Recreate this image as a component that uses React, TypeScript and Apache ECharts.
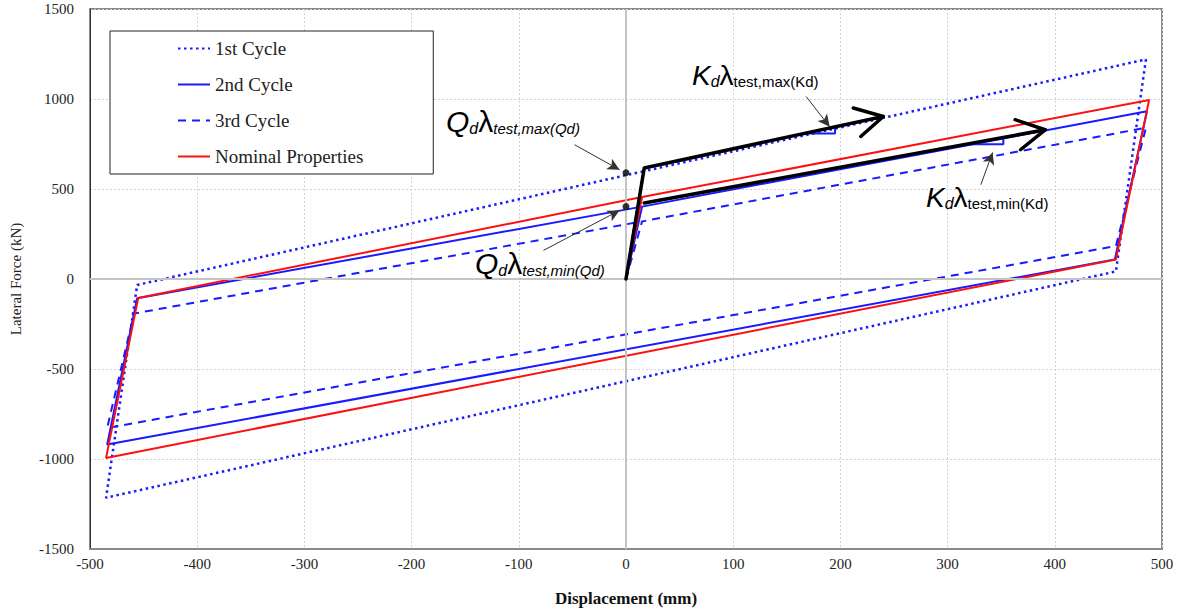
import React, { useEffect, useRef } from "react";
import * as echarts from "echarts";

// ---- Data ----
const cycle1: [number, number][] = [
  [0, 0], [16, 598], [485, 1220], [457, 42], [-485, -1215], [-456, -33], [16, 598],
];
const cycle2: [number, number][] = [
  [0, 0], [15, 402], [486, 932], [456, 108], [-484, -920], [-456, -107], [15, 402],
];
const cycle3: [number, number][] = [
  [0, 0], [15, 320], [485, 840], [457, 183], [-484, -828], [-459, -192], [15, 320],
];
const nominal: [number, number][] = [
  [0, 0], [15, 455], [488, 995], [457, 108], [-485, -994], [-455, -105], [15, 455],
];
// thick black stiffness lines
const kdMaxLine: [number, number][] = [[0, 0], [17, 617], [240, 903]];
const kdMinLine: [number, number][] = [[17, 422], [391, 829]];
const kdMaxHead: [number, number][] = [[212, 950], [240, 903], [219, 792]];
const kdMinHead: [number, number][] = [[363, 885], [391, 829], [368, 718]];
// slope triangles
const triMax: [number, number][] = [[166, 808], [195, 808], [195, 845]];
const triMin: [number, number][] = [[318, 749], [352, 749], [352, 786]];
// Qd points
const qdPoints: [number, number][] = [[0, 590], [0, 402]];
// annotation arrows [from, to]
const arrows: [[number, number], [number, number]][] = [
  [[-48, 746], [-6, 607]],
  [[-77, 159], [-6, 381]],
  [[168, 1014], [190, 846]],
  [[331, 524], [342, 703]],
];
const legendNames = ["1st Cycle", "2nd Cycle", "3rd Cycle", "Nominal Properties"];
const xTickInterval = 100;
const yTickInterval = 500;

const SANS = "Liberation Sans, Arial, sans-serif";
const SERIF = "Liberation Serif, Times New Roman, serif";
const BLUE = "#1a1aff";
const RED = "#ff1010";

function richLabel(
  left: number,
  top: number,
  main: string,
  sub: string,
  italicSub: boolean,
  size: number
) {
  return {
    type: "text",
    left,
    top,
    z: 100,
    style: {
      text: `{a|${main}}{b|d}{c|λ}{e|${sub}}`,
      fill: "#000",
      rich: {
        a: { fontFamily: SANS, fontSize: size, fontStyle: "italic", lineHeight: size, fill: "#000" },
        b: { fontFamily: SANS, fontSize: 16, fontStyle: "italic", lineHeight: 10, verticalAlign: "bottom", fill: "#000" },
        c: { fontFamily: SANS, fontSize: size, lineHeight: size, fill: "#000" },
        e: {
          fontFamily: SANS,
          fontSize: 15,
          fontStyle: italicSub ? "italic" : "normal",
          lineHeight: 10,
          verticalAlign: "bottom",
          fill: "#000",
        },
      },
    },
  };
}

export default function App() {
  const ref = useRef<HTMLDivElement>(null);
  useEffect(() => {
    if (!ref.current) return;
    const chart = echarts.init(ref.current, undefined, { renderer: "svg" });
    const option: any = {
      animation: false,
      backgroundColor: "#fff",
      grid: {
        left: 85,
        right: 16,
        top: 9,
        bottom: 66,
        show: true,
        borderColor: "#8a8a8a",
        borderWidth: 2,
      },
      legend: {
        data: legendNames,
        orient: "vertical",
        left: 110,
        top: 31,
        itemWidth: 32,
        itemHeight: 14,
        itemGap: 17,
        padding: [8, 70, 8, 67],
        backgroundColor: "#fff",
        borderColor: "#222",
        borderWidth: 1,
        itemStyle: { color: "transparent", borderWidth: 0, opacity: 0 },
        textStyle: { fontFamily: SERIF, fontSize: 19, color: "#222" },
      },
      xAxis: {
        type: "value",
        min: -500,
        max: 500,
        interval: xTickInterval,
        name: "Displacement (mm)",
        nameLocation: "middle",
        nameGap: 41,
        nameTextStyle: { fontFamily: SERIF, fontSize: 17, fontWeight: "bold", color: "#111" },
        axisLine: { onZero: false, lineStyle: { color: "#8a8a8a", width: 2 } },
        axisTick: { show: false },
        axisLabel: { fontFamily: SERIF, fontSize: 15, color: "#222", margin: 7 },
        splitLine: { show: true, lineStyle: { color: "#d4d4d4", type: [2, 2], width: 1 } },
      },
      yAxis: {
        type: "value",
        min: -1500,
        max: 1500,
        interval: yTickInterval,
        name: "Lateral Force (kN)",
        nameLocation: "middle",
        nameGap: 67,
        nameRotate: 90,
        nameTextStyle: { fontFamily: SERIF, fontSize: 15, color: "#222" },
        axisLine: { onZero: false, lineStyle: { color: "#333", width: 1 } },
        axisTick: { show: false },
        axisLabel: {
          fontFamily: SERIF,
          fontSize: 15,
          color: "#222",
          margin: 16,
          formatter: (v: number) => String(v),
        },
        splitLine: { show: true, lineStyle: { color: "#d4d4d4", type: [2, 2], width: 1 } },
      },
      series: [
        {
          type: "line",
          name: "zero",
          data: [],
          z: 1,
          silent: true,
          markLine: {
            silent: true,
            symbol: ["none", "none"],
            label: { show: false },
            lineStyle: { color: "#c4c4c4", width: 2, type: "solid" },
            data: [{ xAxis: 0 }, { yAxis: 0 }],
          },
        },
        {
          type: "line",
          name: legendNames[0],
          data: cycle1,
          symbol: "none",
          z: 3,
          lineStyle: { color: BLUE, width: 2.5, type: [2.5, 3.5] },
          itemStyle: { color: BLUE },
        },
        {
          type: "line",
          name: legendNames[1],
          data: cycle2,
          symbol: "none",
          z: 3,
          lineStyle: { color: BLUE, width: 2, type: "solid" },
          itemStyle: { color: BLUE },
        },
        {
          type: "line",
          name: legendNames[2],
          data: cycle3,
          symbol: "none",
          z: 3,
          lineStyle: { color: BLUE, width: 2, type: [8, 6] },
          itemStyle: { color: BLUE },
        },
        {
          type: "line",
          name: legendNames[3],
          data: nominal,
          symbol: "none",
          z: 4,
          lineStyle: { color: RED, width: 2, type: "solid" },
          itemStyle: { color: RED },
        },
        ...[triMax, triMin].map((d) => ({
          type: "line",
          name: "tri",
          data: d,
          symbol: "none",
          z: 5,
          lineStyle: { color: BLUE, width: 2 },
        })),
        ...[kdMaxLine, kdMinLine, kdMaxHead, kdMinHead].map((d) => ({
          type: "line",
          name: "kd",
          data: d,
          symbol: "none",
          z: 6,
          lineStyle: { color: "#000", width: 3.5, cap: "round", join: "round" },
        })),
        {
          type: "scatter",
          name: "qd",
          data: qdPoints,
          symbolSize: 7,
          z: 7,
          itemStyle: { color: "#000" },
        },
        {
          type: "line",
          name: "arrows",
          data: [],
          z: 8,
          markLine: {
            silent: true,
            symbol: ["none", "arrow"],
            symbolSize: [9, 12],
            label: { show: false },
            lineStyle: { color: "#333", width: 1, type: "solid" },
            data: arrows.map(([a, b]) => [{ coord: a }, { coord: b }]),
          },
        },
      ],
      graphic: [
        richLabel(446, 106, "Q", "test,max(Qd)", true, 30),
        richLabel(475, 248, "Q", "test,min(Qd)", true, 30),
        richLabel(692, 61, "K", "test,max(Kd)", false, 28),
        richLabel(926, 183, "K", "test,min(Kd)", false, 28),
      ],
    };
    chart.setOption(option);
    return () => chart.dispose();
  }, []);
  return (
    <div
      ref={ref}
      style={{ position: "fixed", left: 0, top: 0, width: 1178, height: 615 }}
    />
  );
}
